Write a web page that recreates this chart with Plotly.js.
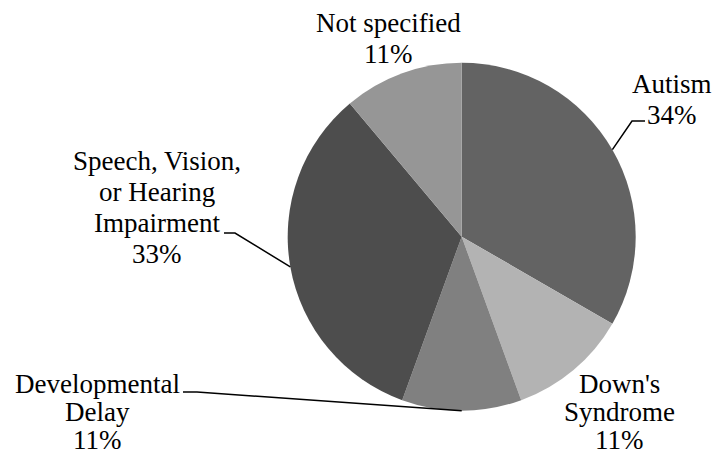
<!DOCTYPE html>
<html>
<head>
<meta charset="utf-8">
<script src="https://cdn.plot.ly/plotly-3.0.1.min.js"></script>
<style>html,body{margin:0;padding:0;background:#fff}</style>
</head>
<body>
<div id="chart" style="width:713px;height:456px"></div>
<script>
// ---- data ----
const categories = ["Autism", "Down's Syndrome", "Developmental Delay", "Speech, Vision, or Hearing Impairment", "Not specified"];
const displayNames = ["Autism", "Down's<br>Syndrome", "Developmental<br>Delay", "Speech, Vision,<br>or Hearing<br>Impairment", "Not specified"];
const counts = [3, 1, 1, 3, 1];
const pctLabels = ["34%", "11%", "11%", "33%", "11%"];
const sliceColors = ["#636363", "#b3b3b3", "#808080", "#4d4d4d", "#969696"];

// ---- layout geometry (pixels) ----
const W = 713, H = 456;
const cx = 461.7, cy = 236.7, R = 174;
const fontSize = 27;
// label first-line centre [x, y] and line gap per category
const labelPos = [[672, 84, 30.5], [619, 384, 28], [97, 384, 28], [157, 161, 31], [388, 23, 31]];
// leader elbow and end points per category (null = no leader)
const leaders = [
  [[632, 121], [645, 121]],
  null,
  [[197, 392], [183, 392]],
  [[235, 233], [224, 233]],
  null
];

const toPx = x => x / W;
const toPy = y => 1 - y / H;

const total = counts.reduce((a, b) => a + b, 0);
const annotations = [];
const shapes = [];
let cum = 0;
counts.forEach((v, i) => {
  const mid = (cum + v / 2) / total * 2 * Math.PI; // clockwise from 12 o'clock
  cum += v;
  const lines = displayNames[i].split("<br>").concat([pctLabels[i]]);
  lines.forEach((t, k) => {
    annotations.push({
      xref: "paper", yref: "paper",
      x: toPx(labelPos[i][0]), y: toPy(labelPos[i][1] + k * labelPos[i][2]),
      xanchor: "center", yanchor: "middle",
      text: t, showarrow: false,
      font: {family: "Liberation Serif", size: fontSize, color: "#000000"}
    });
  });
  if (leaders[i]) {
    const sx = cx + R * Math.sin(mid), sy = cy - R * Math.cos(mid);
    const [e1, e2] = leaders[i];
    shapes.push({
      type: "path", xref: "paper", yref: "paper",
      path: `M ${toPx(sx)} ${toPy(sy)} L ${toPx(e1[0])} ${toPy(e1[1])} L ${toPx(e2[0])} ${toPy(e2[1])}`,
      line: {color: "#000", width: 1.5}
    });
  }
});

const trace = {
  type: "pie",
  labels: categories,
  values: counts,
  sort: false,
  direction: "clockwise",
  rotation: 0,
  textinfo: "none",
  hoverinfo: "label+percent",
  marker: {colors: sliceColors, line: {width: 0}},
  domain: {x: [toPx(cx - R), toPx(cx + R)], y: [toPy(cy + R), toPy(cy - R)]}
};

Plotly.newPlot("chart", [trace], {
  width: W, height: H,
  margin: {l: 0, r: 0, t: 0, b: 0},
  showlegend: false,
  annotations: annotations,
  shapes: shapes
}, {displayModeBar: false, staticPlot: true});
</script>
</body>
</html>
